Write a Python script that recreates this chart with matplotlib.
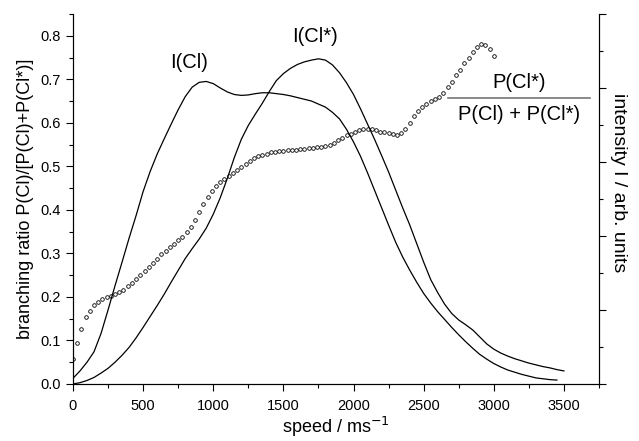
import numpy as np
import matplotlib
matplotlib.use("Agg")
import matplotlib.pyplot as plt
from matplotlib.ticker import MultipleLocator, FormatStrFormatter

plt.rcParams['font.family'] = ['Liberation Sans', 'DejaVu Sans']

# branching ratio P(Cl*)/[P(Cl)+P(Cl*)], one point every 30 m/s
ratio_speed = np.arange(0, 3001, 30)
ratio = [0.057, 0.095, 0.126, 0.153, 0.168, 0.181, 0.189, 0.195, 0.199, 0.202,
         0.206, 0.211, 0.217, 0.224, 0.233, 0.241, 0.250, 0.259, 0.268, 0.278,
         0.288, 0.298, 0.306, 0.314, 0.322, 0.330, 0.338, 0.348, 0.361, 0.377,
         0.394, 0.413, 0.430, 0.443, 0.455, 0.464, 0.471, 0.477, 0.484, 0.491,
         0.498, 0.506, 0.513, 0.519, 0.523, 0.526, 0.529, 0.532, 0.533, 0.535,
         0.536, 0.537, 0.537, 0.538, 0.539, 0.540, 0.541, 0.542, 0.544, 0.545,
         0.547, 0.550, 0.553, 0.560, 0.566, 0.571, 0.575, 0.579, 0.583, 0.585,
         0.585, 0.585, 0.583, 0.580, 0.578, 0.576, 0.574, 0.573, 0.576, 0.585,
         0.600, 0.615, 0.627, 0.637, 0.644, 0.649, 0.654, 0.660, 0.669, 0.682,
         0.694, 0.709, 0.722, 0.737, 0.750, 0.762, 0.774, 0.782, 0.779, 0.769,
         0.754]

# intensity I(Cl), every 50 m/s
cl_speed = np.arange(0, 3451, 50)
cl_int = [0.013, 0.030, 0.050, 0.074, 0.116, 0.170, 0.226, 0.280, 0.335, 0.387,
          0.442, 0.488, 0.528, 0.563, 0.597, 0.630, 0.660, 0.682, 0.693, 0.695,
          0.690, 0.680, 0.671, 0.665, 0.663, 0.664, 0.667, 0.669, 0.669, 0.667,
          0.665, 0.662, 0.658, 0.654, 0.650, 0.643, 0.636, 0.624, 0.609, 0.585,
          0.556, 0.523, 0.485, 0.445, 0.405, 0.365, 0.326, 0.292, 0.262, 0.234,
          0.208, 0.186, 0.166, 0.148, 0.130, 0.113, 0.097, 0.082, 0.068, 0.057,
          0.047, 0.039, 0.032, 0.027, 0.022, 0.018, 0.014, 0.012, 0.010, 0.009]

# intensity I(Cl*), every 50 m/s
cls_speed = np.arange(0, 3501, 50)
cls_int = [0.000, 0.003, 0.008, 0.015, 0.025, 0.036, 0.050, 0.066, 0.084, 0.106,
           0.130, 0.155, 0.180, 0.206, 0.234, 0.261, 0.288, 0.311, 0.333, 0.358,
           0.390, 0.428, 0.472, 0.520, 0.562, 0.594, 0.620, 0.645, 0.672, 0.697,
           0.713, 0.725, 0.734, 0.740, 0.744, 0.747, 0.744, 0.733, 0.715, 0.692,
           0.665, 0.632, 0.597, 0.562, 0.525, 0.487, 0.446, 0.405, 0.366, 0.323,
           0.280, 0.240, 0.210, 0.183, 0.162, 0.147, 0.136, 0.124, 0.108, 0.092,
           0.080, 0.071, 0.064, 0.058, 0.053, 0.048, 0.044, 0.040, 0.037, 0.033,
           0.030]

fig = plt.figure(figsize=(6.39, 4.41), dpi=100)
ax = fig.add_axes([0.1142, 0.1293, 0.8232, 0.8390])
ax2 = ax.twinx()

ax.plot(ratio_speed, ratio, linestyle='none', marker='o', markersize=2.6,
        markerfacecolor='white', markeredgecolor='black', markeredgewidth=0.6)
ax2.plot(cl_speed, cl_int, color='black', linewidth=0.9)
ax2.plot(cls_speed, cls_int, color='black', linewidth=0.9)

ax.set_xlim(0, 3750)
ax.set_ylim(0, 0.85)
ax2.set_ylim(0, 0.85)

ax.xaxis.set_major_locator(MultipleLocator(500))
ax.xaxis.set_minor_locator(MultipleLocator(250))
ax.yaxis.set_major_locator(MultipleLocator(0.1))
ax.yaxis.set_minor_locator(MultipleLocator(0.05))
ax.yaxis.set_major_formatter(FormatStrFormatter('%.1f'))
ax2.yaxis.set_major_locator(MultipleLocator(0.17))
ax2.yaxis.set_minor_locator(MultipleLocator(0.085))
ax2.set_yticklabels([])

for a in (ax, ax2):
    a.spines['top'].set_visible(False)
    a.tick_params(which='major', direction='out', length=5, width=0.8, labelsize=10.5)
    a.tick_params(which='minor', direction='out', length=3, width=0.8)
ax.tick_params(axis='x', pad=6)

ax.set_xlabel('speed / ms$^{-1}$', fontsize=13, labelpad=1)
ax.set_ylabel('branching ratio P(Cl)/[P(Cl)+P(Cl*)]', fontsize=13, labelpad=5)
ax2.set_ylabel('intensity I / arb. units', fontsize=14, rotation=-90, labelpad=12)
ax2.yaxis.label.set_y(0.543)

ax.text(0.2205, 0.870, 'I(Cl)', transform=ax.transAxes, fontsize=14.5, ha='center', va='center')
ax.text(0.46, 0.938, 'I(Cl*)', transform=ax.transAxes, fontsize=14.5, ha='center', va='center')
ax.text(0.848, 0.815, 'P(Cl*)', transform=ax.transAxes, fontsize=14.5, ha='center', va='center')
ax.text(0.848, 0.728, 'P(Cl) + P(Cl*)', transform=ax.transAxes, fontsize=14.5, ha='center', va='center')
ax.plot([0.713, 0.983], [0.773, 0.773], transform=ax.transAxes, color='#777777', linewidth=1.2)

fig.savefig('out.png', dpi=100)
